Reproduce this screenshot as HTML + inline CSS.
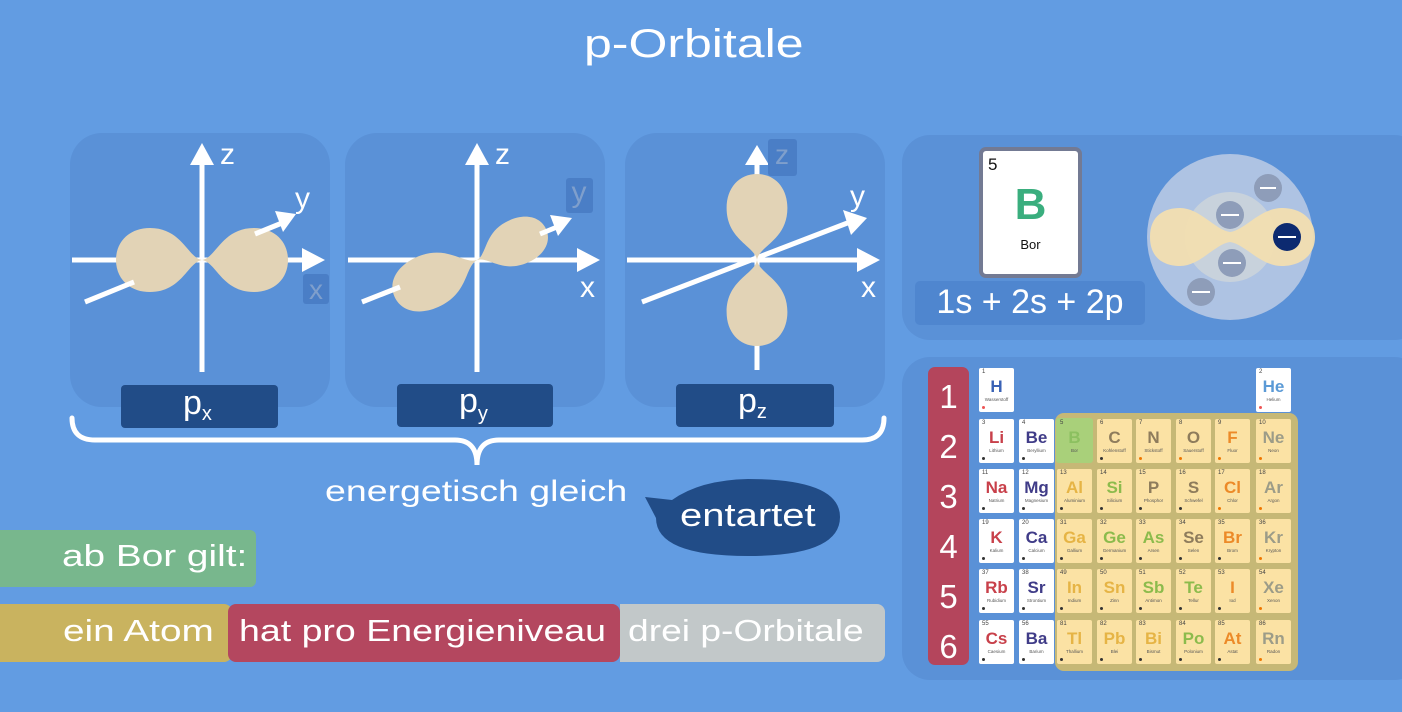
<!DOCTYPE html>
<html><head><meta charset="utf-8"><style>
body{margin:0;width:1402px;height:712px;overflow:hidden;background:#629ce2;font-family:"Liberation Sans","DejaVu Sans",sans-serif;position:relative}
.a{position:absolute}
.t{position:absolute;color:#fff;white-space:nowrap}
.w{transform:scaleX(1.25);transform-origin:0 0}
.c{position:absolute;width:35px;height:44px;background:#fff;border-radius:2px;overflow:hidden}
.y{background:#fbe2a4}
.c b{position:absolute;left:0;right:0;top:9px;text-align:center;font-size:17px;font-weight:bold}
.c i{position:absolute;left:3px;top:1px;font-size:6px;font-style:normal;color:#444}
.c s{position:absolute;left:0;right:0;top:29px;text-align:center;font-size:4.5px;text-decoration:none;color:#555}
.c u{position:absolute;left:3px;bottom:3px;width:3px;height:3px;border-radius:50%;background:#333}
</style></head><body>
<svg class="a" style="left:0;top:0" width="1402" height="712">
<defs>
<path id="lobe" d="M0,0 C14,-2 20,-32 52,-32 C72,-32 86,-19 86,0 C86,19 72,32 52,32 C20,32 14,2 0,0Z" fill="#e2d3b6"/>
</defs>
<rect x="70" y="133" width="260" height="274" rx="32" fill="#5a91d7"/>
<rect x="345" y="133" width="260" height="274" rx="32" fill="#5a91d7"/>
<rect x="625" y="133" width="260" height="274" rx="32" fill="#5a91d7"/>
<rect x="902" y="135" width="520" height="205" rx="28" fill="#5a91d7"/>
<rect x="902" y="357" width="520" height="323" rx="28" fill="#5a91d7"/>
<!-- px -->
<g stroke="#fff" stroke-width="5" fill="#fff">
<line x1="202" y1="372" x2="202" y2="160"/><polygon points="190,165 202,143 214,165" stroke="none"/>
<line x1="72" y1="260" x2="305" y2="260"/><polygon points="302,248 325,260 302,272" stroke="none"/>
</g>
<use href="#lobe" transform="translate(202,260)"/>
<use href="#lobe" transform="translate(202,260) scale(-1,1)"/>
<g stroke="#fff" stroke-width="5" fill="#fff">
<line x1="85" y1="302" x2="134" y2="282"/><line x1="255" y1="234" x2="282" y2="223"/><polygon points="275,211 296,214 283,232" stroke="none"/>
</g>
<rect x="303" y="274" width="26" height="30" rx="3" fill="#4a7ec6"/>
<text x="316" y="299" font-size="28" fill="#7f9fcc" text-anchor="middle" font-family="Liberation Sans">x</text>
<text x="220" y="164" font-size="30" fill="#fff" font-family="Liberation Sans">z</text>
<text x="295" y="208" font-size="30" fill="#fff" font-family="Liberation Sans">y</text>
<!-- py -->
<g stroke="#fff" stroke-width="5" fill="#fff">
<line x1="477" y1="372" x2="477" y2="160"/><polygon points="465,165 477,143 489,165" stroke="none"/>
<line x1="348" y1="260" x2="580" y2="260"/><polygon points="577,248 600,260 577,272" stroke="none"/>
</g>
<use href="#lobe" transform="translate(477,260) rotate(-24) scale(0.88,0.72)"/>
<use href="#lobe" transform="translate(477,260) rotate(156) scale(1.05,0.85)"/>
<g stroke="#fff" stroke-width="5" fill="#fff">
<line x1="362" y1="302" x2="400" y2="287"/><line x1="540" y1="234" x2="557" y2="227"/><polygon points="550,215 572,218 558,236" stroke="none"/>
</g>
<rect x="566" y="178" width="27" height="35" rx="3" fill="#4a7ec6"/>
<text x="579" y="202" font-size="30" fill="#7f9fcc" text-anchor="middle" font-family="Liberation Sans">y</text>
<text x="495" y="164" font-size="30" fill="#fff" font-family="Liberation Sans">z</text>
<text x="580" y="297" font-size="30" fill="#fff" font-family="Liberation Sans">x</text>
<!-- pz -->
<g stroke="#fff" stroke-width="5" fill="#fff">
<line x1="757" y1="370" x2="757" y2="160"/><polygon points="745,165 757,145 769,165" stroke="none"/>
<line x1="627" y1="260" x2="860" y2="260"/><polygon points="857,248 880,260 857,272" stroke="none"/>
<line x1="642" y1="302" x2="850" y2="222"/><polygon points="843,210 867,218 851,235" stroke="none"/>
</g>
<use href="#lobe" transform="translate(757,260) rotate(-90) scale(1.0,0.95)"/>
<use href="#lobe" transform="translate(757,260) rotate(90) scale(1.0,0.95)"/>
<rect x="768" y="139" width="29" height="37" rx="3" fill="#4a7ec6"/>
<text x="782" y="164" font-size="28" fill="#7f9fcc" text-anchor="middle" font-family="Liberation Sans">z</text>
<text x="850" y="206" font-size="30" fill="#fff" font-family="Liberation Sans">y</text>
<text x="861" y="297" font-size="30" fill="#fff" font-family="Liberation Sans">x</text>
<!-- labels -->
<rect x="121" y="385" width="157" height="43" rx="4" fill="#214c87"/>
<rect x="397" y="384" width="156" height="43" rx="4" fill="#214c87"/>
<rect x="676" y="384" width="158" height="43" rx="4" fill="#214c87"/>
<text x="183" y="414" font-size="34" fill="#fff" font-family="Liberation Sans">p<tspan font-size="20" dy="6">x</tspan></text>
<text x="459" y="412" font-size="34" fill="#fff" font-family="Liberation Sans">p<tspan font-size="20" dy="8">y</tspan></text>
<text x="738" y="412" font-size="34" fill="#fff" font-family="Liberation Sans">p<tspan font-size="20" dy="6">z</tspan></text>
<!-- brace -->
<path d="M72,418 Q72,440 95,440 L455,440 Q477,440 477,465 Q477,440 499,440 L862,440 Q884,440 884,418" fill="none" stroke="#fff" stroke-width="5" stroke-linecap="round"/>
<!-- bubble -->
<path d="M645,497 L672,500 Q700,480 748,479 Q840,479 840,517 Q840,556 748,556 Q656,556 656,518 Z" fill="#214c87"/>
<!-- atom -->
<circle cx="1230" cy="237" r="83" fill="#aec3e3"/>
<circle cx="1230" cy="237" r="45" fill="#c8d2dc"/>
<path d="M1150,237 C1150,215 1165,208 1180,208 C1200,208 1215,230 1230,232 C1245,230 1260,208 1282,208 C1300,208 1315,218 1315,237 C1315,256 1300,266 1282,266 C1260,266 1245,244 1230,242 C1215,244 1200,266 1180,266 C1165,266 1150,259 1150,237Z" fill="#f2deb0" opacity="0.95"/>
<g fill="#8e9db9"><circle cx="1268" cy="188" r="14"/><circle cx="1230" cy="215" r="14"/><circle cx="1232" cy="263" r="14"/><circle cx="1201" cy="292" r="14"/></g>
<circle cx="1287" cy="237" r="14" fill="#0c2a70"/>
<g stroke="#fff" stroke-width="2"><line x1="1260" y1="188" x2="1276" y2="188"/><line x1="1221" y1="215" x2="1239" y2="215"/><line x1="1223" y1="263" x2="1241" y2="263"/><line x1="1192" y1="292" x2="1210" y2="292"/><line x1="1278" y1="237" x2="1296" y2="237"/></g>
<!-- card -->
<rect x="981" y="149" width="99" height="127" rx="5" fill="#fff" stroke="#737a93" stroke-width="4"/>
<rect x="915" y="281" width="230" height="44" rx="5" fill="#4f86cf"/>
<!-- periodic -->
<rect x="928" y="367" width="41" height="298" rx="7" fill="#b4455c"/>
<rect x="1055" y="413" width="243" height="258" rx="9" fill="#c6b876"/>
<rect x="1056" y="418" width="37" height="45" rx="3" fill="#a9d07a"/>
</svg>
<div class="t w" style="left:584px;top:22px;font-size:40px">p-Orbitale</div>
<div class="t w" style="left:325px;top:475px;font-size:30px">energetisch gleich</div>
<div class="t w" style="left:680px;top:497px;font-size:32px">entartet</div>
<div class="a" style="left:0;top:530px;width:256px;height:57px;background:#78b78d;border-radius:0 6px 6px 0"></div>
<div class="t w" style="left:62px;top:538px;font-size:31px">ab Bor gilt:</div>
<div class="a" style="left:0;top:604px;width:232px;height:58px;background:#c9b35f;border-radius:0 8px 8px 0"></div>
<div class="a" style="left:620px;top:604px;width:265px;height:58px;background:#c2c8c9;border-radius:0 8px 8px 0"></div>
<div class="a" style="left:228px;top:604px;width:392px;height:58px;background:#b4475f;border-radius:8px"></div>
<div class="t w" style="left:63px;top:613px;font-size:31px">ein Atom</div>
<div class="t w" style="left:239px;top:613px;font-size:31px;transform:scaleX(1.21)">hat pro Energieniveau</div>
<div class="t w" style="left:628px;top:613px;font-size:31px;transform:scaleX(1.2)">drei p-Orbitale</div>
<div class="a" style="left:988px;top:155px;font-size:17px;color:#111">5</div>
<div class="a" style="left:982px;width:97px;text-align:center;top:180px;font-size:44px;font-weight:bold;color:#3aae7e">B</div>
<div class="a" style="left:982px;width:97px;text-align:center;top:237px;font-size:13px;color:#111">Bor</div>
<div class="t" style="left:915px;width:230px;text-align:center;top:283px;font-size:34px">1s + 2s + 2p</div>
<div class="t" style="left:928px;width:41px;text-align:center;top:372px;font-size:33px;line-height:50px">1<br>2<br>3<br>4<br>5<br>6</div>

<div class="c" style="left:979px;top:368px"><i>1</i><b style="color:#3a62b5">H</b><s>Wasserstoff</s><u style="background:#e55"></u></div>
<div class="c" style="left:1256px;top:368px"><i>2</i><b style="color:#5b9ad6">He</b><s>Helium</s><u style="background:#e55"></u></div>

<div class="c" style="left:979px;top:419px"><i>3</i><b style="color:#c8404a">Li</b><s>Lithium</s><u></u></div>
<div class="c" style="left:1019px;top:419px"><i>4</i><b style="color:#403c88">Be</b><s>Beryllium</s><u></u></div>
<div class="c" style="left:1057px;top:419px;background:transparent"><i>5</i><b style="color:#8cc060">B</b><s>Bor</s></div>
<div class="c y" style="left:1097px;top:419px"><i>6</i><b style="color:#8e7c5c">C</b><s>Kohlenstoff</s><u></u></div>
<div class="c y" style="left:1136px;top:419px"><i>7</i><b style="color:#8e7c5c">N</b><s>Stickstoff</s><u style="background:#e70"></u></div>
<div class="c y" style="left:1176px;top:419px"><i>8</i><b style="color:#8e7c5c">O</b><s>Sauerstoff</s><u style="background:#e70"></u></div>
<div class="c y" style="left:1215px;top:419px"><i>9</i><b style="color:#ec8a28">F</b><s>Fluor</s><u style="background:#e70"></u></div>
<div class="c y" style="left:1256px;top:419px"><i>10</i><b style="color:#9c9c88">Ne</b><s>Neon</s><u style="background:#e70"></u></div>

<div class="c" style="left:979px;top:469px"><i>11</i><b style="color:#c8404a">Na</b><s>Natrium</s><u></u></div>
<div class="c" style="left:1019px;top:469px"><i>12</i><b style="color:#403c88">Mg</b><s>Magnesium</s><u></u></div>
<div class="c y" style="left:1057px;top:469px"><i>13</i><b style="color:#e6b445">Al</b><s>Aluminium</s><u></u></div>
<div class="c y" style="left:1097px;top:469px"><i>14</i><b style="color:#8cbb4c">Si</b><s>Silicium</s><u></u></div>
<div class="c y" style="left:1136px;top:469px"><i>15</i><b style="color:#8e7c5c">P</b><s>Phosphor</s><u></u></div>
<div class="c y" style="left:1176px;top:469px"><i>16</i><b style="color:#8e7c5c">S</b><s>Schwefel</s><u></u></div>
<div class="c y" style="left:1215px;top:469px"><i>17</i><b style="color:#ec8a28">Cl</b><s>Chlor</s><u style="background:#e70"></u></div>
<div class="c y" style="left:1256px;top:469px"><i>18</i><b style="color:#9c9c88">Ar</b><s>Argon</s><u style="background:#e70"></u></div>

<div class="c" style="left:979px;top:519px"><i>19</i><b style="color:#c8404a">K</b><s>Kalium</s><u></u></div>
<div class="c" style="left:1019px;top:519px"><i>20</i><b style="color:#403c88">Ca</b><s>Calcium</s><u></u></div>
<div class="c y" style="left:1057px;top:519px"><i>31</i><b style="color:#e6b445">Ga</b><s>Gallium</s><u></u></div>
<div class="c y" style="left:1097px;top:519px"><i>32</i><b style="color:#8cbb4c">Ge</b><s>Germanium</s><u></u></div>
<div class="c y" style="left:1136px;top:519px"><i>33</i><b style="color:#8cbb4c">As</b><s>Arsen</s><u></u></div>
<div class="c y" style="left:1176px;top:519px"><i>34</i><b style="color:#8e7c5c">Se</b><s>Selen</s><u></u></div>
<div class="c y" style="left:1215px;top:519px"><i>35</i><b style="color:#ec8a28">Br</b><s>Brom</s><u></u></div>
<div class="c y" style="left:1256px;top:519px"><i>36</i><b style="color:#9c9c88">Kr</b><s>Krypton</s><u style="background:#e70"></u></div>

<div class="c" style="left:979px;top:569px"><i>37</i><b style="color:#c8404a">Rb</b><s>Rubidium</s><u></u></div>
<div class="c" style="left:1019px;top:569px"><i>38</i><b style="color:#403c88">Sr</b><s>Strontium</s><u></u></div>
<div class="c y" style="left:1057px;top:569px"><i>49</i><b style="color:#e6b445">In</b><s>Indium</s><u></u></div>
<div class="c y" style="left:1097px;top:569px"><i>50</i><b style="color:#e6b445">Sn</b><s>Zinn</s><u></u></div>
<div class="c y" style="left:1136px;top:569px"><i>51</i><b style="color:#8cbb4c">Sb</b><s>Antimon</s><u></u></div>
<div class="c y" style="left:1176px;top:569px"><i>52</i><b style="color:#8cbb4c">Te</b><s>Tellur</s><u></u></div>
<div class="c y" style="left:1215px;top:569px"><i>53</i><b style="color:#ec8a28">I</b><s>Iod</s><u></u></div>
<div class="c y" style="left:1256px;top:569px"><i>54</i><b style="color:#9c9c88">Xe</b><s>Xenon</s><u style="background:#e70"></u></div>

<div class="c" style="left:979px;top:620px"><i>55</i><b style="color:#c8404a">Cs</b><s>Caesium</s><u></u></div>
<div class="c" style="left:1019px;top:620px"><i>56</i><b style="color:#403c88">Ba</b><s>Barium</s><u></u></div>
<div class="c y" style="left:1057px;top:620px"><i>81</i><b style="color:#e6b445">Tl</b><s>Thallium</s><u></u></div>
<div class="c y" style="left:1097px;top:620px"><i>82</i><b style="color:#e6b445">Pb</b><s>Blei</s><u></u></div>
<div class="c y" style="left:1136px;top:620px"><i>83</i><b style="color:#e6b445">Bi</b><s>Bismut</s><u></u></div>
<div class="c y" style="left:1176px;top:620px"><i>84</i><b style="color:#8cbb4c">Po</b><s>Polonium</s><u></u></div>
<div class="c y" style="left:1215px;top:620px"><i>85</i><b style="color:#ec8a28">At</b><s>Astat</s><u></u></div>
<div class="c y" style="left:1256px;top:620px"><i>86</i><b style="color:#9c9c88">Rn</b><s>Radon</s><u style="background:#e70"></u></div>
</body></html>
